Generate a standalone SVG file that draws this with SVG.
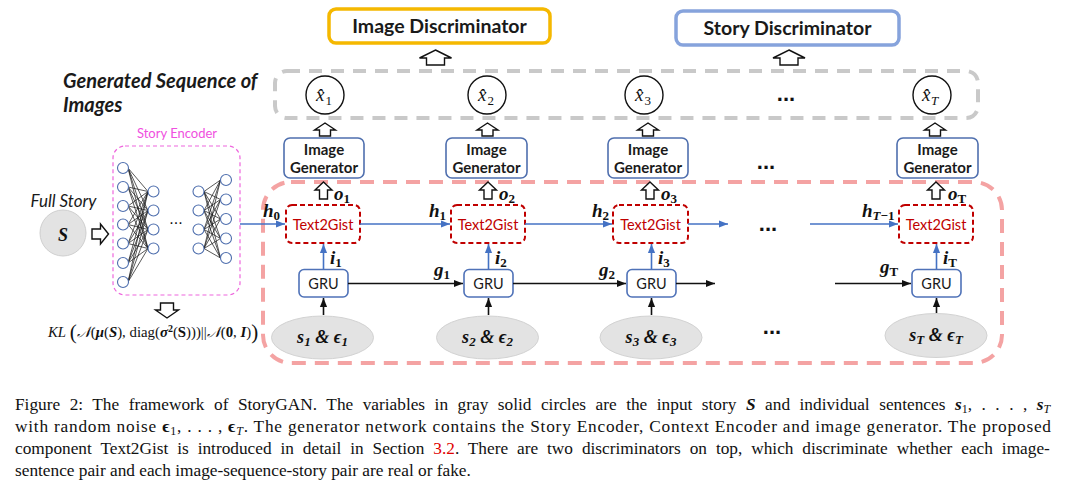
<svg xmlns="http://www.w3.org/2000/svg" width="1080" height="489" viewBox="0 0 1080 489">
<defs>
<style>
.lbl{font-family:Lato,"Open Sans","Liberation Sans",sans-serif;fill:#1a1a1a}
.b{font-weight:bold}
.ig{font-family:Lato,"Open Sans",sans-serif;font-weight:bold;font-size:15px;fill:#1a1a1a;text-anchor:middle}
.t2g{font-family:Lato,"Open Sans",sans-serif;font-size:14.5px;fill:#c00000;text-anchor:middle}
.gru{font-family:Lato,"Open Sans",sans-serif;font-size:14.5px;fill:#1a1a1a;text-anchor:middle}
.ml{font-family:"Liberation Serif","DejaVu Serif",serif;font-weight:bold;font-style:italic;font-size:19px;fill:#111}
.sb{font-size:13px;font-style:normal}
.el{font-family:"Liberation Serif","DejaVu Serif",serif;font-weight:bold;font-style:italic;font-size:18px;fill:#111;text-anchor:middle}
.xh{font-family:"Liberation Serif","DejaVu Serif",serif;font-style:italic;font-size:19px;fill:#111}
.cap{font-family:"Liberation Serif","Times New Roman",serif;font-size:17.3px;fill:#111}
.bi{font-weight:bold;font-style:italic}
.dots{font-family:"Liberation Sans",Arial,sans-serif;font-weight:bold;font-size:22px;fill:#111;text-anchor:middle}
.igbox{fill:#fff;stroke:#4f6fae;stroke-width:1.6}
.t2gbox{fill:#fff;stroke:#c00000;stroke-width:2;stroke-dasharray:5 3}
.grubox{fill:#fff;stroke:#4f72b8;stroke-width:1.6}
.elp{fill:#e3e3e3;stroke:#d2d2d2;stroke-width:1}
.hol{fill:#fff;stroke:#111;stroke-width:1.4;stroke-linejoin:miter}
.blu{stroke:#4472c4;stroke-width:1.6;fill:none}
.blk{stroke:#111;stroke-width:1.6;fill:none}
.nn{fill:#fff;stroke:#4f6fae;stroke-width:1.1}
.xc{fill:#fff;stroke:#111;stroke-width:1.4}
</style>
<marker id="ab" viewBox="0 0 10 10" refX="10" refY="5" markerWidth="10" markerHeight="9" markerUnits="userSpaceOnUse" orient="auto"><path d="M0,1 L10,5 L0,9 z" fill="#4472c4"/></marker>
<marker id="ak" viewBox="0 0 10 10" refX="10" refY="5" markerWidth="10" markerHeight="9" markerUnits="userSpaceOnUse" orient="auto"><path d="M0,1 L10,5 L0,9 z" fill="#111"/></marker>
</defs>
<rect width="1080" height="489" fill="#fff"/>

<g id="context-encoder-box">
<rect x="263" y="182" width="739" height="181" rx="28" fill="none" stroke="#f4a3a3" stroke-width="4" stroke-dasharray="14 9"/>
</g>
<g id="image-sequence-box">
<rect x="275" y="71" width="703" height="47" rx="12" fill="none" stroke="#c9c9c9" stroke-width="4" stroke-dasharray="13 9"/>
</g>

<g id="image-discriminator">
<rect x="329" y="9" width="221" height="34" rx="7" fill="#fff" stroke="#f5b800" stroke-width="3.5"/>
<text class="lbl b" x="439.5" y="32.5" font-size="19.5" text-anchor="middle">Image Discriminator</text>
</g>
<g id="story-discriminator">
<rect x="676" y="11" width="223" height="34" rx="7" fill="#fff" stroke="#86a3dc" stroke-width="3.5"/>
<text class="lbl b" x="787.5" y="34.5" font-size="19.5" text-anchor="middle">Story Discriminator</text>
</g>

<g id="title">
<text class="lbl b" font-style="italic" font-size="20" x="63" y="88">Generated Sequence of</text>
<text class="lbl b" font-style="italic" font-size="20" x="63" y="112">Images</text>
</g>

<g id="full-story">
<text class="lbl" font-style="italic" font-size="17" x="63.5" y="207" text-anchor="middle">Full Story</text>
<circle cx="63" cy="233" r="23" fill="#e3e3e3" stroke="#cfcfcf"/>
<text class="el" x="63" y="241" font-size="22">S</text>
</g>

<g id="story-encoder">
<text class="lbl" x="177" y="138" font-size="13" style="fill:#f050e0" text-anchor="middle">Story Encoder</text>
<rect x="113" y="146" width="127" height="149" rx="12" fill="none" stroke="#ee66dd" stroke-width="1.2" stroke-dasharray="4 3"/>
<path stroke="#111" stroke-width="0.7" fill="none" d="M128,168L148,191.5M128,168L148,210.5M128,168L148,229.5M128,168L148,248.5M128,187L148,191.5M128,187L148,210.5M128,187L148,229.5M128,187L148,248.5M128,206L148,191.5M128,206L148,210.5M128,206L148,229.5M128,206L148,248.5M128,224.5L148,191.5M128,224.5L148,210.5M128,224.5L148,229.5M128,224.5L148,248.5M128,243.5L148,191.5M128,243.5L148,210.5M128,243.5L148,229.5M128,243.5L148,248.5M128,263L148,191.5M128,263L148,210.5M128,263L148,229.5M128,263L148,248.5M128,282L148,191.5M128,282L148,210.5M128,282L148,229.5M128,282L148,248.5"/>
<path stroke="#111" stroke-width="0.7" fill="none" d="M204,191.5L220.5,180M204,191.5L220.5,199.5M204,191.5L220.5,219M204,191.5L220.5,238.5M204,191.5L220.5,258M204,210.5L220.5,180M204,210.5L220.5,199.5M204,210.5L220.5,219M204,210.5L220.5,238.5M204,210.5L220.5,258M204,229.5L220.5,180M204,229.5L220.5,199.5M204,229.5L220.5,219M204,229.5L220.5,238.5M204,229.5L220.5,258M204,248.5L220.5,180M204,248.5L220.5,199.5M204,248.5L220.5,219M204,248.5L220.5,238.5M204,248.5L220.5,258"/>
<circle class="nn" cx="123" cy="168" r="5.5"/><circle class="nn" cx="123" cy="187" r="5.5"/><circle class="nn" cx="123" cy="206" r="5.5"/><circle class="nn" cx="123" cy="224.5" r="5.5"/><circle class="nn" cx="123" cy="243.5" r="5.5"/><circle class="nn" cx="123" cy="263" r="5.5"/><circle class="nn" cx="123" cy="282" r="5.5"/>
<circle class="nn" cx="153.5" cy="191.5" r="5.5"/><circle class="nn" cx="153.5" cy="210.5" r="5.5"/><circle class="nn" cx="153.5" cy="229.5" r="5.5"/><circle class="nn" cx="153.5" cy="248.5" r="5.5"/>
<circle class="nn" cx="198.5" cy="191.5" r="5.5"/><circle class="nn" cx="198.5" cy="210.5" r="5.5"/><circle class="nn" cx="198.5" cy="229.5" r="5.5"/><circle class="nn" cx="198.5" cy="248.5" r="5.5"/>
<circle class="nn" cx="226" cy="180" r="5.5"/><circle class="nn" cx="226" cy="199.5" r="5.5"/><circle class="nn" cx="226" cy="219" r="5.5"/><circle class="nn" cx="226" cy="238.5" r="5.5"/><circle class="nn" cx="226" cy="258" r="5.5"/>
<text x="176" y="224" font-family="Liberation Sans,sans-serif" font-size="16" text-anchor="middle" fill="#111">...</text>
</g>

<g id="kl-loss">
<text x="48" y="337" font-family="Liberation Serif,DejaVu Serif,serif" font-size="14.8" fill="#111"><tspan font-style="italic">KL</tspan> <tspan font-size="21" dy="2">(</tspan><tspan dy="-2" font-style="italic">𝒩</tspan>(<tspan class="bi">μ</tspan>(<tspan class="bi">S</tspan>), diag(<tspan class="bi">σ</tspan><tspan font-size="10" dy="-5" font-weight="bold">2</tspan><tspan dy="5">(</tspan><tspan font-weight="bold">S</tspan>)))||<tspan font-style="italic">𝒩</tspan>(<tspan font-weight="bold">0</tspan>, <tspan class="bi">I</tspan>)<tspan font-size="21" dy="2">)</tspan></text>
</g>

<g id="x1"><circle class="xc" cx="325" cy="95" r="19"/><text class="xh" x="316" y="101">x&#x302;<tspan dx="1" dy="4" font-size="13" font-style="normal">1</tspan></text></g>
<g id="x2"><circle class="xc" cx="487" cy="95" r="19"/><text class="xh" x="478" y="101">x&#x302;<tspan dx="1" dy="4" font-size="13" font-style="normal">2</tspan></text></g>
<g id="x3"><circle class="xc" cx="644" cy="95" r="19"/><text class="xh" x="635" y="101">x&#x302;<tspan dx="1" dy="4" font-size="13" font-style="normal">3</tspan></text></g>
<g id="xT"><circle class="xc" cx="932" cy="95" r="19"/><text class="xh" x="922" y="101">x&#x302;<tspan dx="0.5" dy="4" font-size="13">T</tspan></text></g>

<g id="imggen1"><rect class="igbox" x="284" y="138" width="80" height="40" rx="6"/><text class="ig" x="324" y="155">Image</text><text class="ig" x="324" y="172.5">Generator</text></g>
<g id="imggen2"><rect class="igbox" x="446" y="138" width="81" height="40" rx="6"/><text class="ig" x="486.5" y="155">Image</text><text class="ig" x="486.5" y="172.5">Generator</text></g>
<g id="imggen3"><rect class="igbox" x="608" y="138" width="80" height="40" rx="6"/><text class="ig" x="648" y="155">Image</text><text class="ig" x="648" y="172.5">Generator</text></g>
<g id="imggenT"><rect class="igbox" x="897" y="138" width="81" height="40" rx="6"/><text class="ig" x="937.5" y="155">Image</text><text class="ig" x="937.5" y="172.5">Generator</text></g>

<g id="t2g1"><rect class="t2gbox" x="286" y="205" width="74" height="38" rx="6"/><text class="t2g" x="323" y="230">Text2Gist</text></g>
<g id="t2g2"><rect class="t2gbox" x="451" y="205" width="74" height="38" rx="6"/><text class="t2g" x="488" y="230">Text2Gist</text></g>
<g id="t2g3"><rect class="t2gbox" x="613" y="205" width="75" height="38" rx="6"/><text class="t2g" x="650.5" y="230">Text2Gist</text></g>
<g id="t2gT"><rect class="t2gbox" x="899" y="205" width="74" height="38" rx="6"/><text class="t2g" x="936" y="230">Text2Gist</text></g>

<g id="gru1"><rect class="grubox" x="299" y="269.5" width="49" height="27.5" rx="5"/><text class="gru" x="323.5" y="289">GRU</text></g>
<g id="gru2"><rect class="grubox" x="464" y="269.5" width="49" height="27.5" rx="5"/><text class="gru" x="488.5" y="289">GRU</text></g>
<g id="gru3"><rect class="grubox" x="627" y="269.5" width="49" height="27.5" rx="5"/><text class="gru" x="651.5" y="289">GRU</text></g>
<g id="gruT"><rect class="grubox" x="912" y="269.5" width="49" height="27.5" rx="5"/><text class="gru" x="936.5" y="289">GRU</text></g>

<g id="in1"><ellipse class="elp" cx="322.5" cy="337.5" rx="51" ry="21.5"/><text class="el" x="322.5" y="343">s<tspan font-size="13" dy="3">1</tspan><tspan dy="-3"> &amp; ϵ</tspan><tspan font-size="13" dy="3">1</tspan></text></g>
<g id="in2"><ellipse class="elp" cx="487.5" cy="337.5" rx="51" ry="21.5"/><text class="el" x="487.5" y="343">s<tspan font-size="13" dy="3">2</tspan><tspan dy="-3"> &amp; ϵ</tspan><tspan font-size="13" dy="3">2</tspan></text></g>
<g id="in3"><ellipse class="elp" cx="651" cy="337.5" rx="51" ry="21.5"/><text class="el" x="651" y="343">s<tspan font-size="13" dy="3">3</tspan><tspan dy="-3"> &amp; ϵ</tspan><tspan font-size="13" dy="3">3</tspan></text></g>
<g id="inT"><ellipse class="elp" cx="936" cy="335.5" rx="51" ry="22"/><text class="el" x="936" y="341">s<tspan font-size="13" dy="3">T</tspan><tspan dy="-3"> &amp; ϵ</tspan><tspan font-size="13" dy="3">T</tspan></text></g>

<g id="connectors">
<path class="hol" d="M435.5,50 L451.5,58 L444.5,58 L444.5,65 L426.5,65 L426.5,58 L419.5,58 Z"/>
<path class="hol" d="M789,50 L805,58 L798,58 L798,65 L780,65 L780,58 L773,58 Z"/>
<path class="hol" d="M325,123 L335.5,130 L330.5,130 L330.5,136 L319.5,136 L319.5,130 L314.5,130 Z"/>
<path class="hol" d="M487.5,123 L498,130 L493,130 L493,136 L482,136 L482,130 L477,130 Z"/>
<path class="hol" d="M648,123 L658.5,130 L653.5,130 L653.5,136 L642.5,136 L642.5,130 L637.5,130 Z"/>
<path class="hol" d="M935,123 L945.5,130 L940.5,130 L940.5,136 L929.5,136 L929.5,130 L924.5,130 Z"/>
<path class="hol" d="M323.5,182 L332,190 L327.5,190 L327.5,199 L319.5,199 L319.5,190 L315,190 Z"/>
<path class="hol" d="M488,182 L496.5,190 L492,190 L492,199 L484,199 L484,190 L479.5,190 Z"/>
<path class="hol" d="M650,182 L658.5,190 L654,190 L654,199 L646,199 L646,190 L641.5,190 Z"/>
<path class="hol" d="M936,182 L944.5,190 L940,190 L940,199 L932,199 L932,190 L927.5,190 Z"/>
<path class="hol" d="M108.5,234 L100.5,224 L100.5,229 L92,229 L92,239 L100.5,239 L100.5,244 Z"/>
<path class="hol" d="M167,318 L178.5,310 L173.5,310 L173.5,303 L160.5,303 L160.5,310 L155.5,310 Z"/>
<line class="blu" x1="240" y1="224" x2="285" y2="224" marker-end="url(#ab)"/>
<line class="blu" x1="360" y1="224" x2="450" y2="224" marker-end="url(#ab)"/>
<line class="blu" x1="525" y1="224" x2="612" y2="224" marker-end="url(#ab)"/>
<line class="blu" x1="688" y1="224" x2="728" y2="224" marker-end="url(#ab)"/>
<line class="blu" x1="810" y1="224" x2="898" y2="224" marker-end="url(#ab)"/>
<line class="blu" x1="323.5" y1="269" x2="323.5" y2="244" marker-end="url(#ab)"/>
<line class="blu" x1="488.5" y1="269" x2="488.5" y2="244" marker-end="url(#ab)"/>
<line class="blu" x1="651.5" y1="269" x2="651.5" y2="244" marker-end="url(#ab)"/>
<line class="blu" x1="936.5" y1="269" x2="936.5" y2="244" marker-end="url(#ab)"/>
<line class="blk" x1="348" y1="283.5" x2="463" y2="283.5" marker-end="url(#ak)"/>
<line class="blk" x1="513" y1="283.5" x2="626" y2="283.5" marker-end="url(#ak)"/>
<line class="blk" x1="676" y1="283.5" x2="715" y2="283.5" marker-end="url(#ak)"/>
<line class="blk" x1="835" y1="283.5" x2="911" y2="283.5" marker-end="url(#ak)"/>
<line class="blk" x1="323.5" y1="315" x2="323.5" y2="298" marker-end="url(#ak)"/>
<line class="blk" x1="488.5" y1="315" x2="488.5" y2="298" marker-end="url(#ak)"/>
<line class="blk" x1="651.5" y1="315" x2="651.5" y2="298" marker-end="url(#ak)"/>
<line class="blk" x1="936.5" y1="313" x2="936.5" y2="298" marker-end="url(#ak)"/>
</g>

<g id="labels">
<text class="ml" x="263" y="217">h<tspan class="sb" dy="3">0</tspan></text>
<text class="ml" x="429" y="217">h<tspan class="sb" dy="3">1</tspan></text>
<text class="ml" x="592" y="217">h<tspan class="sb" dy="3">2</tspan></text>
<text class="ml" x="862" y="217">h<tspan class="sb" dy="3"><tspan font-style="italic">T</tspan>−1</tspan></text>
<text class="ml" x="334" y="200">o<tspan class="sb" dy="3">1</tspan></text>
<text class="ml" x="499" y="200">o<tspan class="sb" dy="3">2</tspan></text>
<text class="ml" x="661" y="200">o<tspan class="sb" dy="3">3</tspan></text>
<text class="ml" x="948" y="200">o<tspan class="sb" dy="3" font-style="italic">T</tspan></text>
<text class="ml" x="330" y="264">i<tspan class="sb" dy="3">1</tspan></text>
<text class="ml" x="495" y="264">i<tspan class="sb" dy="3">2</tspan></text>
<text class="ml" x="658" y="264">i<tspan class="sb" dy="3">3</tspan></text>
<text class="ml" x="943" y="264">i<tspan class="sb" dy="3" font-style="italic">T</tspan></text>
<text class="ml" x="434" y="276">g<tspan class="sb" dy="3">1</tspan></text>
<text class="ml" x="599" y="276">g<tspan class="sb" dy="3">2</tspan></text>
<text class="ml" x="880" y="273">g<tspan class="sb" dy="3" font-style="italic">T</tspan></text>
<text class="dots" x="786" y="101">...</text>
<text class="dots" x="766" y="169">...</text>
<text class="dots" x="768" y="231">...</text>
<text class="dots" x="772" y="334">...</text>
</g>

<g id="caption">
<text class="cap" x="15" y="410" word-spacing="5.2">Figure 2: The framework of StoryGAN. The variables in gray solid circles are the input story <tspan class="bi">S</tspan> and individual sentences <tspan class="bi">s</tspan><tspan font-size="12" dy="3">1</tspan><tspan dy="-3">, . . . , </tspan><tspan class="bi">s</tspan><tspan font-size="12" dy="3" font-style="italic">T</tspan></text>
<text class="cap" x="15" y="432" textLength="1036" lengthAdjust="spacing">with random noise <tspan font-weight="bold">ϵ</tspan><tspan font-size="12" dy="3">1</tspan><tspan dy="-3">, . . . , </tspan><tspan font-weight="bold">ϵ</tspan><tspan font-size="12" dy="3" font-style="italic">T</tspan><tspan dy="-3">. The generator network contains the Story Encoder, Context Encoder and image generator. The proposed</tspan></text>
<text class="cap" x="15" y="454" word-spacing="4.6">component Text2Gist is introduced in detail in Section <tspan fill="#e00000">3.2</tspan>. There are two discriminators on top, which discriminate whether each image-</text>
<text class="cap" x="15" y="476">sentence pair and each image-sequence-story pair are real or fake.</text>
</g>
</svg>
